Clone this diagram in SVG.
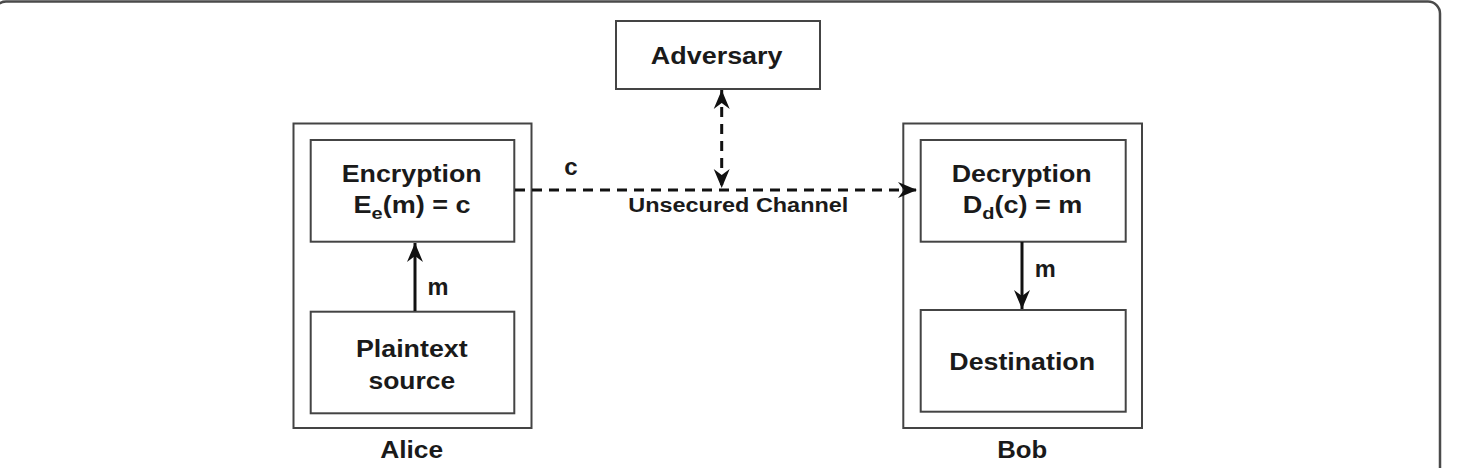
<svg xmlns="http://www.w3.org/2000/svg" width="1459" height="468" viewBox="0 0 1459 468">
<style>
.frame{fill:none;stroke:#4a4a4a;stroke-width:2.5}
.box{fill:#fff;stroke:#444;stroke-width:2}
.t{font-family:"Liberation Sans",Arial,sans-serif;font-weight:bold;font-size:23px;fill:#1a1a1a;text-anchor:middle}
.s{font-family:"Liberation Sans",Arial,sans-serif;font-weight:bold;font-size:20px;fill:#1a1a1a;text-anchor:middle}
.solid{fill:none;stroke:#111;stroke-width:3}
.dash{fill:none;stroke:#111;stroke-width:3;stroke-dasharray:10 7}
</style>
<defs>
<marker id="ah" markerUnits="userSpaceOnUse" markerWidth="24" markerHeight="20" viewBox="-20 -10 22 20" refX="0" refY="0" orient="auto-start-reverse">
<path d="M0,0 L-19,-8 L-13,0 L-19,8 Z" fill="#111"/>
</marker>
</defs>
<rect class="frame" x="-6" y="1.5" width="1446" height="520" rx="12"/>

<g id="alice">
<rect class="box" x="293.5" y="123.5" width="238" height="304.5"/>
<text class="t" x="411.7" y="458" textLength="63" lengthAdjust="spacingAndGlyphs">Alice</text>
</g>
<g id="encryption">
<rect class="box" x="310.7" y="140" width="203.6" height="101.7"/>
<text class="t" x="411.7" y="181.7" textLength="140" lengthAdjust="spacingAndGlyphs">Encryption</text>
<text class="t" x="412" y="213" textLength="117" lengthAdjust="spacingAndGlyphs">E<tspan font-size="17" dy="6">e</tspan><tspan dy="-6">(m) = c</tspan></text>
</g>
<g id="plaintext">
<rect class="box" x="310.7" y="311.7" width="203.6" height="101.6"/>
<text class="t" x="411.8" y="356.7" textLength="111.7" lengthAdjust="spacingAndGlyphs">Plaintext</text>
<text class="t" x="411.8" y="389" textLength="86.7" lengthAdjust="spacingAndGlyphs">source</text>
</g>

<g id="bob">
<rect class="box" x="903.3" y="123.5" width="238.7" height="304.5"/>
<text class="t" x="1022.3" y="458" textLength="50" lengthAdjust="spacingAndGlyphs">Bob</text>
</g>
<g id="decryption">
<rect class="box" x="920.7" y="140" width="205" height="101.7"/>
<text class="t" x="1021.7" y="181.7" textLength="140" lengthAdjust="spacingAndGlyphs">Decryption</text>
<text class="t" x="1022.5" y="213" textLength="119.7" lengthAdjust="spacingAndGlyphs">D<tspan font-size="17" dy="6">d</tspan><tspan dy="-6">(c) = m</tspan></text>
</g>
<g id="destination">
<rect class="box" x="920.7" y="310" width="205" height="101.7"/>
<text class="t" x="1022.2" y="370" textLength="145.7" lengthAdjust="spacingAndGlyphs">Destination</text>
</g>

<g id="adversary">
<rect class="box" x="616" y="21" width="204" height="68"/>
<text class="t" x="716.7" y="64" textLength="131.7" lengthAdjust="spacingAndGlyphs">Adversary</text>
</g>

<g id="connectors">
<line class="solid" x1="415" y1="311" x2="415" y2="243" marker-end="url(#ah)"/>
<text class="t" x="438" y="295" textLength="21" lengthAdjust="spacingAndGlyphs">m</text>
<line class="solid" x1="1022" y1="242" x2="1022" y2="309" marker-end="url(#ah)"/>
<text class="t" x="1045.3" y="276.7" textLength="21" lengthAdjust="spacingAndGlyphs">m</text>
<line class="dash" x1="515" y1="190" x2="917" y2="190" marker-end="url(#ah)"/>
<text class="t" x="571" y="175" textLength="13.4" lengthAdjust="spacingAndGlyphs">c</text>
<text class="s" x="738.3" y="211.7" textLength="220" lengthAdjust="spacingAndGlyphs">Unsecured Channel</text>
<line class="dash" x1="721.7" y1="90" x2="721.7" y2="188" marker-start="url(#ah)" marker-end="url(#ah)"/>
</g>
</svg>
